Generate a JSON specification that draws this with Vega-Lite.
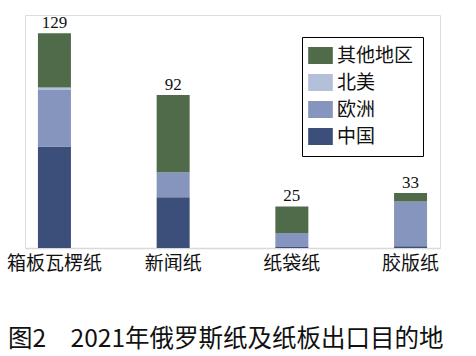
{
  "$schema": "https://vega.github.io/schema/vega-lite/v6.json",
  "width": 415,
  "height": 233,
  "autosize": {"type": "none"},
  "padding": {"left": 25, "top": 15, "right": 36, "bottom": 108},
  "background": "white",
  "title": {
    "text": "图2　2021年俄罗斯纸及纸板出口目的地",
    "orient": "bottom",
    "anchor": "start",
    "frame": "group",
    "dx": -17,
    "offset": 55,
    "font": "Noto Sans CJK SC",
    "fontSize": 24.5,
    "fontWeight": "normal",
    "color": "#111111"
  },
  "data": {
    "values": [
      {"product": "箱板瓦楞纸", "region": "中国", "rank": 1, "value": 61},
      {"product": "箱板瓦楞纸", "region": "欧洲", "rank": 2, "value": 34},
      {"product": "箱板瓦楞纸", "region": "北美", "rank": 3, "value": 1.5},
      {"product": "箱板瓦楞纸", "region": "其他地区", "rank": 4, "value": 32.5},
      {"product": "新闻纸", "region": "中国", "rank": 1, "value": 30.5},
      {"product": "新闻纸", "region": "欧洲", "rank": 2, "value": 15},
      {"product": "新闻纸", "region": "北美", "rank": 3, "value": 0},
      {"product": "新闻纸", "region": "其他地区", "rank": 4, "value": 46.5},
      {"product": "纸袋纸", "region": "中国", "rank": 1, "value": 0.6},
      {"product": "纸袋纸", "region": "欧洲", "rank": 2, "value": 8.4},
      {"product": "纸袋纸", "region": "北美", "rank": 3, "value": 0},
      {"product": "纸袋纸", "region": "其他地区", "rank": 4, "value": 16},
      {"product": "胶版纸", "region": "中国", "rank": 1, "value": 1},
      {"product": "胶版纸", "region": "欧洲", "rank": 2, "value": 27},
      {"product": "胶版纸", "region": "北美", "rank": 3, "value": 0},
      {"product": "胶版纸", "region": "其他地区", "rank": 4, "value": 5}
    ]
  },
  "encoding": {
    "x": {
      "field": "product",
      "type": "nominal",
      "sort": ["箱板瓦楞纸", "新闻纸", "纸袋纸", "胶版纸"],
      "scale": {"paddingInner": 0.722, "paddingOuter": 0.109},
      "axis": {
        "title": null,
        "labelAngle": 0,
        "labelFont": "Noto Sans CJK SC",
        "labelFontSize": 19,
        "labelColor": "#111111",
        "labelPadding": 6,
        "ticks": false,
        "domainColor": "#d9d9d9",
        "domainWidth": 1.5,
        "grid": false
      }
    }
  },
  "layer": [
    {
      "mark": {"type": "bar"},
      "encoding": {
        "y": {
          "field": "value",
          "type": "quantitative",
          "stack": "zero",
          "scale": {"domain": [0, 140], "nice": false},
          "axis": null
        },
        "order": {"field": "rank", "type": "quantitative", "sort": "ascending"},
        "color": {
          "field": "region",
          "type": "nominal",
          "scale": {
            "domain": ["其他地区", "北美", "欧洲", "中国"],
            "range": ["#4f6b4a", "#b4c0da", "#8595bd", "#3c4f7a"]
          },
          "legend": {
            "title": null,
            "orient": "none",
            "legendX": 277,
            "legendY": 22,
            "padding": 9,
            "strokeColor": "#000000",
            "fillColor": "white",
            "symbolType": "M-1.45,-1L1.45,-1L1.45,1L-1.45,1Z",
            "symbolSize": 289,
            "symbolStrokeWidth": 0,
            "symbolOpacity": 1,
            "labelFont": "Noto Sans CJK SC",
            "labelFontSize": 19,
            "labelColor": "#111111",
            "labelOffset": 7,
            "rowPadding": 7
          }
        }
      }
    },
    {
      "mark": {
        "type": "text",
        "baseline": "bottom",
        "dy": -1,
        "font": "Liberation Serif",
        "fontSize": 17,
        "color": "#111111"
      },
      "encoding": {
        "y": {"field": "value", "type": "quantitative", "aggregate": "sum"},
        "text": {"field": "value", "type": "quantitative", "aggregate": "sum", "format": ".0f"}
      }
    }
  ]
}
